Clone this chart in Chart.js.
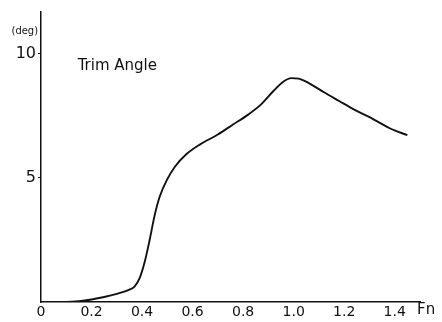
<!DOCTYPE html>
<html>
<head>
<meta charset="utf-8">
<script src="https://cdn.jsdelivr.net/npm/chart.js@4"></script>
<style>
  html, body { margin: 0; padding: 0; background: #fff; }
  #wrap { width: 442px; height: 322px; }
</style>
</head>
<body>
<div id="wrap"><canvas id="trim-chart"></canvas></div>
<script>
// Froude number and trim angle (deg) along the curve
const froude = [0, 0.1, 0.15, 0.2, 0.25, 0.3, 0.35, 0.37, 0.39, 0.41, 0.43, 0.45, 0.47, 0.5, 0.53, 0.575, 0.63, 0.7, 0.76, 0.82, 0.87, 0.92, 0.96, 0.99, 1.02, 1.06, 1.12, 1.18, 1.24, 1.3, 1.38, 1.45];
const trim = [0, 0, 0.03, 0.1, 0.2, 0.33, 0.5, 0.62, 0.95, 1.6, 2.5, 3.5, 4.25, 4.95, 5.45, 5.95, 6.35, 6.75, 7.15, 7.55, 7.95, 8.5, 8.88, 9.02, 9.0, 8.82, 8.45, 8.1, 7.75, 7.45, 7.0, 6.72];
const xTicks = [0, 0.2, 0.4, 0.6, 0.8, 1.0, 1.2, 1.4];
const yTicks = [5, 10];

const ink = "#111";
const fontFamily = "'DejaVu Sans', sans-serif";

// extra text: axis names and the curve title
const labelsPlugin = {
  id: "labels",
  afterDraw(chart) {
    const { ctx, chartArea } = chart;
    const x = chart.scales.x, y = chart.scales.y;
    ctx.save();
    ctx.fillStyle = ink;
    ctx.textBaseline = "middle";
    ctx.font = "11px 'DejaVu Sans Condensed', " + fontFamily;
    ctx.textAlign = "right";
    ctx.fillText("(deg)", chartArea.left - 3, 31);
    ctx.textAlign = "left";
    ctx.font = "15px " + fontFamily;
    ctx.fillText("Fn", chartArea.right - 3, chartArea.bottom + 8);
    ctx.fillText("Trim Angle", x.getPixelForValue(0.145), y.getPixelForValue(9.5));
    ctx.restore();
  }
};

new Chart(document.getElementById("trim-chart"), {
  type: "scatter",
  data: {
    datasets: [{
      data: froude.map((f, i) => ({ x: f, y: trim[i] })),
      showLine: true,
      borderColor: ink,
      borderWidth: 1.9,
      pointRadius: 0,
      cubicInterpolationMode: "monotone",
      fill: false
    }]
  },
  options: {
    responsive: true,
    maintainAspectRatio: false,
    animation: false,
    layout: { padding: { left: 0, top: 9, right: 22, bottom: 0 } },
    plugins: { legend: { display: false }, tooltip: { enabled: false } },
    scales: {
      x: {
        type: "linear",
        min: 0,
        max: 1.5,
        afterBuildTicks: s => { s.ticks = xTicks.map(v => ({ value: v })); },
        afterFit: s => { s.height = 20; },
        grid: { display: false },
        border: { display: true, color: ink, width: 1.5 },
        ticks: {
          color: ink,
          padding: -6,
          maxRotation: 0,
          font: { family: fontFamily, size: 14 },
          callback: v => (v === 0 ? "0" : v.toFixed(1))
        }
      },
      y: {
        type: "linear",
        min: 0,
        max: 11.7,
        afterBuildTicks: s => { s.ticks = yTicks.map(v => ({ value: v })); },
        afterFit: s => { s.width = 41; },
        grid: { display: true, drawOnChartArea: false, drawTicks: true, tickLength: 3, color: ink },
        border: { display: true, color: ink, width: 1.5 },
        ticks: {
          color: ink,
          padding: 2,
          font: { family: fontFamily, size: 16 },
          callback: v => String(v)
        }
      }
    }
  },
  plugins: [labelsPlugin]
});
</script>
</body>
</html>
